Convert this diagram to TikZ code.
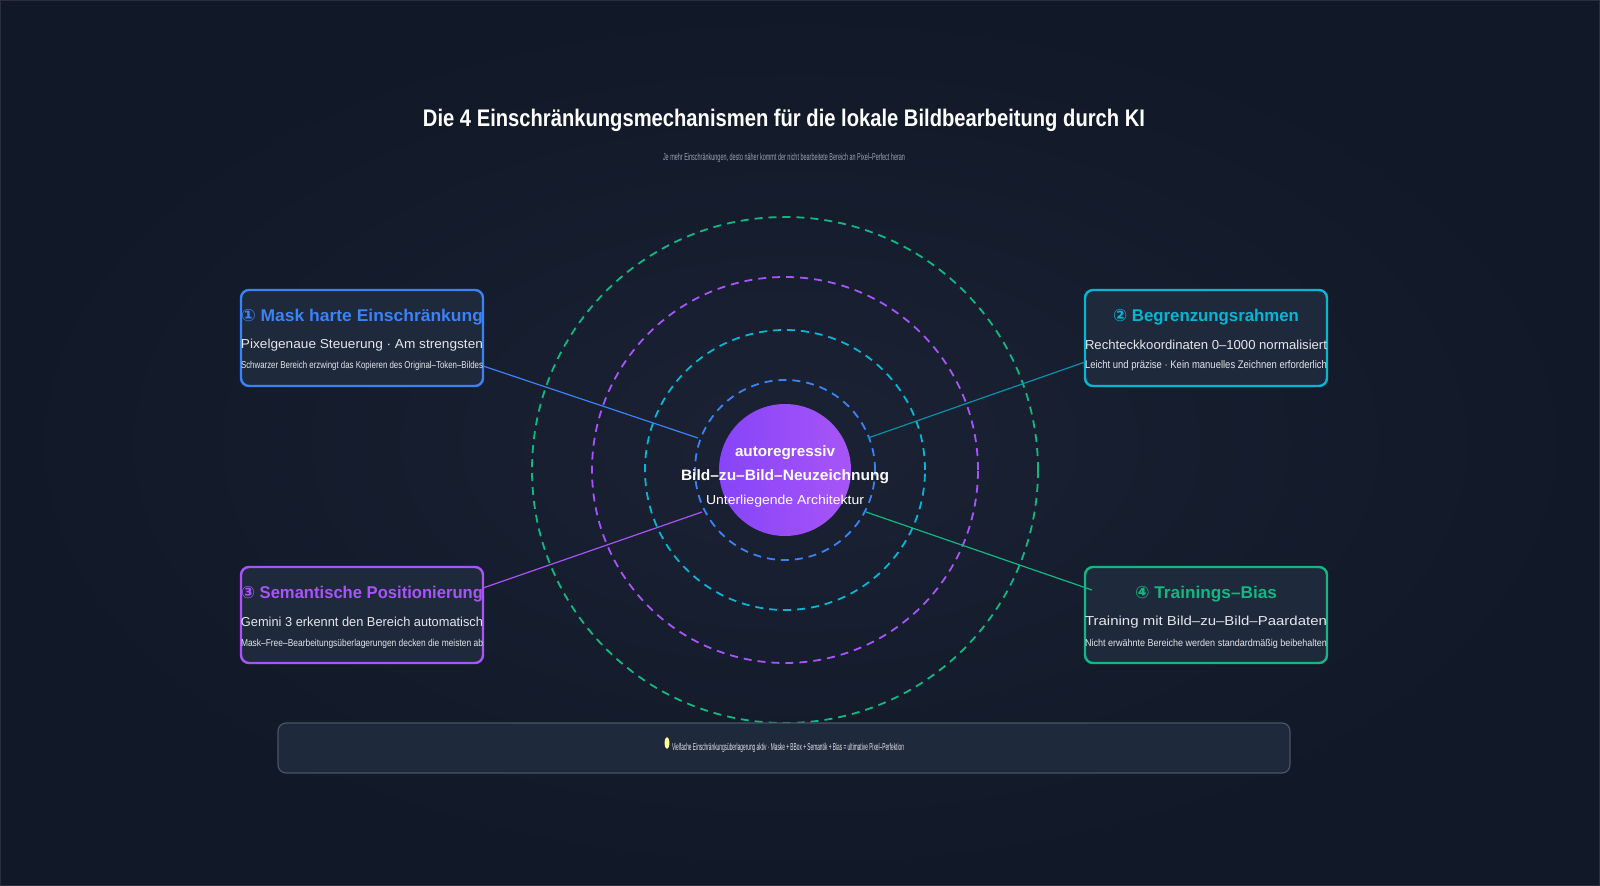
\documentclass[tikz,border=0pt]{standalone}
\usepackage{fontspec}
\usepackage{graphicx}
\setmainfont{Liberation Sans}
\newfontfamily\dv{DejaVu Sans}
\definecolor{bg}{HTML}{111827}
\definecolor{panel}{HTML}{1A2234}
\definecolor{boxf}{HTML}{1E293B}
\definecolor{cb}{HTML}{3B82F6}
\definecolor{cc}{HTML}{06B6D4}
\definecolor{cp}{HTML}{A855F7}
\definecolor{cg}{HTML}{10B981}
\definecolor{txt}{HTML}{E5E7EB}
\definecolor{sub}{HTML}{9CA3AF}
\definecolor{barl}{HTML}{475569}
\newcommand{\fw}[2]{\resizebox{#1pt}{\height}{#2}}
\newcommand{\fs}[1]{\fontsize{#1}{#1}\selectfont}
\begin{document}
\begin{tikzpicture}[x=0.5pt,y=-0.5pt,
  card/.style={draw=#1,line width=1.2pt,fill=boxf,rounded corners=4pt},
  ring/.style={draw=#1,dashed,line width=0.9pt,dash pattern=on 4pt off 3pt},
  lk/.style={draw=#1,line width=0.6pt},
  t/.style={inner sep=0,anchor=center,text=txt}]
\useasboundingbox (0,0) rectangle (1600,886);
\fill[bg] (0,0) rectangle (1600,886);
\shade[inner color=panel,outer color=bg] (0,0) rectangle (1600,886);
\draw[white!10!bg,line width=0.5pt] (0.5,0.5) rectangle (1599.5,885.5);
% title
\node[t,text=white] (title) at (784,120) {\fw{361}{\fs{12}\bfseries Die 4 Einschränkungsmechanismen für die lokale Bildbearbeitung durch KI}};
\node[t,text=sub] (subt) at (784,158) {\fw{121}{\fs{5}Je mehr Einschränkungen, desto näher kommt der nicht bearbeitete Bereich an Pixel–Perfect heran}};
% rings
\node[ring=cg,circle,minimum size=253pt] (r4) at (785,470) {};
\node[ring=cp,circle,minimum size=193pt] (r3) at (785,470) {};
\node[ring=cc,circle,minimum size=140pt] (r2) at (785,470) {};
\node[ring=cb,circle,minimum size=90pt] (r1) at (785,470) {};
\node[circle,minimum size=66pt,inner sep=0,left color=cp!80!blue,right color=cp] (core) at (785,470) {};
\node[t,text=white] (c1) at (785,453) {\fw{50}{\fs{7.5}\bfseries autoregressiv}};
\node[t,text=white] (c2) at (785,477) {\fw{104}{\fs{7.5}\bfseries Bild–zu–Bild–Neuzeichnung}};
\node[t,text=white] (c3) at (785,501) {\fw{79}{\fs{6.5}Unterliegende Architektur}};
% cards
\node[card=cb,minimum width=121pt,minimum height=48pt] (A) at (362,338) {};
\node[card=cc,minimum width=121pt,minimum height=48pt] (B) at (1206,338) {};
\node[card=cp,minimum width=121pt,minimum height=48pt] (C) at (362,615) {};
\node[card=cg,minimum width=121pt,minimum height=48pt] (D) at (1206,615) {};
\coordinate (a1) at (483,366); \coordinate (a2) at (698,438);
\coordinate (b1) at (1085,362); \coordinate (b2) at (868,438);
\coordinate (c1p) at (483,588); \coordinate (c2p) at (702,512);
\coordinate (d1) at (1092,590); \coordinate (d2) at (866,512);
\draw[lk=cb] (a1) -- (a2);
\draw[lk=cc!80!black] (b1) -- (b2);
\draw[lk=cp] (c1p) -- (c2p);
\draw[lk=cg] (d1) -- (d2);
% card A
\node[t,text=cb] (A1) at (362,317) {\fw{121}{\fs{8.5}\bfseries{\dv ①} Mask harte Einschränkung}};
\node[t] (A2) at (362,345) {\fw{121}{\fs{6.5}Pixelgenaue Steuerung · Am strengsten}};
\node[t] (A3) at (362,366) {\fw{121}{\fs{5}Schwarzer Bereich erzwingt das Kopieren des Original–Token–Bildes}};
% card B
\node[t,text=cc] (B1) at (1206,317) {\fw{93}{\fs{8.5}\bfseries{\dv ②} Begrenzungsrahmen}};
\node[t] (B2) at (1206,345) {\fw{121}{\fs{6.5}Rechteckkoordinaten 0–1000 normalisiert}};
\node[t] (B3) at (1206,366) {\fw{121}{\fs{5.5}Leicht und präzise · Kein manuelles Zeichnen erforderlich}};
% card C
\node[t,text=cp] (C1) at (362,594) {\fw{121}{\fs{8.5}\bfseries{\dv ③} Semantische Positionierung}};
\node[t] (C2) at (362,622) {\fw{121}{\fs{6.5}Gemini 3 erkennt den Bereich automatisch}};
\node[t] (C3) at (362,644) {\fw{121}{\fs{5}Mask–Free–Bearbeitungsüberlagerungen decken die meisten ab}};
% card D
\node[t,text=cg] (D1) at (1206,594) {\fw{71}{\fs{8.5}\bfseries{\dv ④} Trainings–Bias}};
\node[t] (D2) at (1206,622) {\fw{121}{\fs{6.5}Training mit Bild–zu–Bild–Paardaten}};
\node[t] (D3) at (1206,644) {\fw{121}{\fs{5}Nicht erwähnte Bereiche werden standardmäßig beibehalten}};
% bottom bar
\node[draw=barl,line width=0.6pt,fill=boxf,rounded corners=4pt,minimum width=506pt,minimum height=25pt] (bar) at (784,748) {};
\fill[yellow!40!white] (667,743) ellipse (1.2pt and 3pt);
\node[t] (bt) at (788,748) {\fw{116}{\fs{5}Vielfache Einschränkungsüberlagerung aktiv · Maske + BBox + Semantik + Bias = ultimative Pixel–Perfektion}};
\end{tikzpicture}
\end{document}
